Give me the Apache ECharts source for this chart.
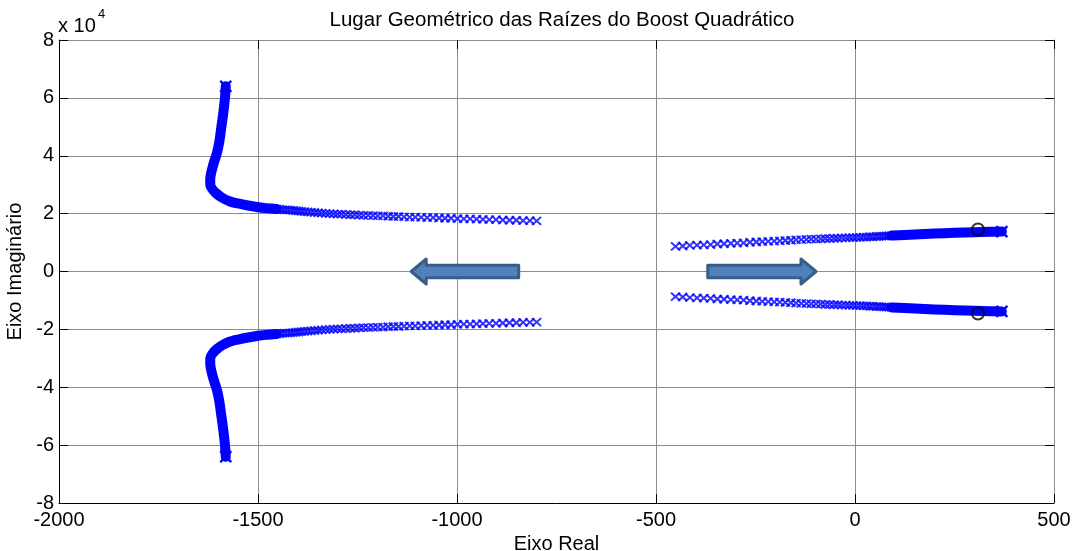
<!DOCTYPE html>
<html>
<head>
<meta charset="utf-8">
<title>Lugar Geométrico das Raízes do Boost Quadrático</title>
<script src="https://cdn.jsdelivr.net/npm/echarts@6.0.0/dist/echarts.min.js"></script>
<style>
  html, body { margin: 0; padding: 0; background: #fff; }
  #chart { width: 1075px; height: 551px; }
</style>
</head>
<body>
<div id="chart"></div>
<script>
// Root locus of the quadratic boost converter.
// Points are [real part, imaginary part / 1e4]; the lower half-plane
// branches are the complex conjugates of the upper ones.

const xTicks = [-2000, -1500, -1000, -500, 0, 500];
const yTicks = [-8, -6, -4, -2, 0, 2, 4, 6, 8];

// Left pole pair, upper branch: individual gain steps (sparse part)
const leftUpperSteps = [
  [-800, 1.75], [-817, 1.76], [-834, 1.76], [-851, 1.77], [-868, 1.77], [-885, 1.78],
  [-902, 1.79], [-919, 1.79], [-935, 1.80], [-951, 1.81], [-967, 1.82], [-983, 1.82],
  [-999, 1.83], [-1015, 1.84], [-1030, 1.84], [-1045, 1.85], [-1060, 1.86], [-1075, 1.86],
  [-1090, 1.87], [-1105, 1.88], [-1119, 1.88], [-1133, 1.89], [-1147, 1.90], [-1160, 1.90],
  [-1173, 1.91], [-1186, 1.92], [-1199, 1.92], [-1211, 1.93], [-1223, 1.94], [-1235, 1.94],
  [-1246, 1.95], [-1257, 1.96], [-1268, 1.96], [-1279, 1.97], [-1290, 1.98], [-1300, 1.98],
  [-1310, 1.99], [-1320, 2.00], [-1330, 2.01], [-1340, 2.02], [-1349, 2.03], [-1358, 2.04],
  [-1367, 2.05], [-1375, 2.06], [-1383, 2.07], [-1391, 2.08], [-1398, 2.09], [-1405, 2.10],
  [-1412, 2.11], [-1419, 2.12], [-1426, 2.13], [-1433, 2.13], [-1440, 2.14], [-1447, 2.15],
  [-1454, 2.16], [-1460, 2.17]
];
// Left pole pair, upper branch: densely packed gain steps (solid band)
const leftUpperBand = [
  [-1454, 2.16], [-1480, 2.19], [-1500, 2.22], [-1525, 2.28],
  [-1550, 2.35], [-1570, 2.42], [-1590, 2.55], [-1605, 2.70], [-1615, 2.85], [-1620, 3.00],
  [-1620, 3.20], [-1616, 3.50], [-1610, 3.80], [-1603, 4.10], [-1597, 4.50], [-1592, 5.00],
  [-1587, 5.50], [-1583, 6.00], [-1581, 6.40]
];

// Right pole pair, upper branch: individual gain steps
const rightUpperSteps = [
  [-451, 0.87], [-433, 0.88], [-415, 0.90], [-397, 0.91], [-380, 0.92], [-363, 0.93],
  [-346, 0.95], [-329, 0.96], [-312, 0.97], [-296, 0.98], [-280, 0.99], [-264, 1.01],
  [-248, 1.02], [-233, 1.03], [-218, 1.04], [-203, 1.05], [-189, 1.06], [-175, 1.07],
  [-161, 1.08], [-148, 1.09], [-135, 1.10], [-122, 1.11], [-110, 1.12], [-98, 1.12],
  [-86, 1.13], [-75, 1.14], [-64, 1.14], [-53, 1.15], [-43, 1.15], [-33, 1.16],
  [-23, 1.16], [-14, 1.17], [-5, 1.17], [4, 1.18], [13, 1.18], [21, 1.19],
  [29, 1.19], [37, 1.20], [45, 1.20], [53, 1.21], [60, 1.21], [67, 1.22],
  [74, 1.22], [80, 1.23], [86, 1.23], [92, 1.24], [98, 1.24]
];
// Right pole pair, upper branch: densely packed gain steps
const rightUpperBand = [
  [92, 1.24], [125, 1.26], [150, 1.28], [200, 1.31], [250, 1.34], [300, 1.36],
  [340, 1.37], [369, 1.38]
];

// Open-loop zeros
const zeros = [[309, 1.45], [309, -1.45]];

// Direction arrows: [tail, tip] in axis units
const arrows = [
  [[-845, 0], [-1115, 0]],
  [[-370, 0], [-98, 0]]
];

const conj = pts => pts.map(p => [p[0], -p[1]]);

const FONT = '"Liberation Sans", Arial, Helvetica, sans-serif';
const FS = 20;
const BLUE = '#0000ff';
const CROSS = 'path://M0,0L10,10M10,0L0,10';

function stepSeries(data) {
  return {
    type: 'scatter', data: data, symbol: CROSS, symbolSize: [9, 8],
    itemStyle: { color: 'rgba(0,0,0,0)', borderColor: BLUE, borderWidth: 2 },
    silent: true, z: 3
  };
}
// Solid band through the dense steps; only its final step keeps a cross
function bandSeries(data) {
  const last = data.length - 1;
  return {
    type: 'line', smooth: 0.25, symbol: 'none', showSymbol: true,
    data: data.map((p, i) => i === last
      ? { value: p, symbol: CROSS, symbolSize: 11 }
      : { value: p }),
    itemStyle: { color: 'rgba(0,0,0,0)', borderColor: BLUE, borderWidth: 2.4 },
    lineStyle: { color: BLUE, width: 10, cap: 'round', join: 'round' },
    silent: true, z: 3, animation: false
  };
}

const chart = echarts.init(document.getElementById('chart'), null, { renderer: 'canvas' });

const gridLine = { show: true, lineStyle: { color: '#8c8c8c', width: 1 } };
const labelStyle = { fontFamily: FONT, fontSize: FS, color: '#000' };
const plain = v => String(v);

chart.setOption({
  animation: false,
  backgroundColor: '#fff',
  title: {
    text: 'Lugar Geométrico das Raízes do Boost Quadrático',
    left: 557, top: 5, textAlign: 'center',
    textStyle: { fontFamily: FONT, fontSize: 20.5, fontWeight: 'normal', color: '#000' }
  },
  grid: { left: 59, right: 21, top: 40, bottom: 48, containLabel: false, outerBoundsMode: 'none' },
  xAxis: [
    {
      type: 'value', min: xTicks[0], max: xTicks[xTicks.length - 1], interval: 500,
      position: 'bottom',
      name: 'Eixo Real', nameLocation: 'middle', nameGap: 26,
      nameTextStyle: labelStyle,
      axisLine: { show: true, onZero: false, lineStyle: { color: '#000', width: 1 } },
      axisTick: { show: true, inside: true, length: 9, lineStyle: { color: '#000' } },
      axisLabel: Object.assign({ margin: 7, formatter: plain }, labelStyle),
      splitLine: gridLine
    },
    {
      type: 'value', min: xTicks[0], max: xTicks[xTicks.length - 1], interval: 500,
      position: 'top',
      axisLine: { show: true, onZero: false, lineStyle: { color: '#8c8c8c', width: 1 } },
      axisTick: { show: true, inside: true, length: 9, lineStyle: { color: '#000' } },
      axisLabel: { show: false },
      splitLine: { show: false }
    }
  ],
  yAxis: [
    {
      type: 'value', min: yTicks[0], max: yTicks[yTicks.length - 1], interval: 2,
      position: 'left',
      name: 'Eixo Imaginário', nameLocation: 'middle', nameGap: 26,
      nameTextStyle: labelStyle,
      axisLine: { show: true, onZero: false, lineStyle: { color: '#000', width: 1 } },
      axisTick: { show: true, inside: true, length: 9, lineStyle: { color: '#000' } },
      axisLabel: Object.assign({ margin: 5, formatter: plain }, labelStyle),
      splitLine: gridLine
    },
    {
      type: 'value', min: yTicks[0], max: yTicks[yTicks.length - 1], interval: 2,
      position: 'right',
      axisLine: { show: true, onZero: false, lineStyle: { color: '#8c8c8c', width: 1 } },
      axisTick: { show: true, inside: true, length: 9, lineStyle: { color: '#000' } },
      axisLabel: { show: false },
      splitLine: { show: false }
    }
  ],
  series: [
    stepSeries(leftUpperSteps),
    bandSeries(leftUpperBand),
    stepSeries(conj(leftUpperSteps)),
    bandSeries(conj(leftUpperBand)),
    stepSeries(rightUpperSteps),
    bandSeries(rightUpperBand),
    stepSeries(conj(rightUpperSteps)),
    bandSeries(conj(rightUpperBand)),
    {
      type: 'scatter', data: zeros, symbol: 'circle', symbolSize: 12,
      itemStyle: { color: 'rgba(0,0,0,0)', borderColor: '#000', borderWidth: 2 },
      silent: true, z: 5
    }
  ]
});

// Block arrows and the axis exponent, placed through the grid's coordinate system
function arrowPoints(tail, tip) {
  const dir = tip[0] >= tail[0] ? 1 : -1;
  const bodyHalf = 6.2, headHalf = 12.5, headLen = 15;
  const y = tail[1];
  const base = tip[0] - dir * headLen;
  return [
    [tail[0], y - bodyHalf], [base, y - bodyHalf], [base, y - headHalf],
    [tip[0], y], [base, y + headHalf], [base, y + bodyHalf], [tail[0], y + bodyHalf]
  ];
}

const graphics = arrows.map(a => {
  const tail = chart.convertToPixel({ gridIndex: 0 }, a[0]);
  const tip = chart.convertToPixel({ gridIndex: 0 }, a[1]);
  return {
    type: 'polygon', z: 10, silent: true,
    shape: { points: arrowPoints(tail, tip) },
    style: { fill: '#4f81bd', stroke: '#385d8a', lineWidth: 3, lineJoin: 'round' }
  };
});

const corner = chart.convertToPixel({ gridIndex: 0 }, [xTicks[0], yTicks[yTicks.length - 1]]);
graphics.push(
  {
    type: 'text', z: 10, silent: true, x: corner[0] - 1, y: corner[1] - 24,
    style: { text: 'x 10', font: FS + 'px ' + FONT, fill: '#000' }
  },
  {
    type: 'text', z: 10, silent: true, x: corner[0] + 39, y: corner[1] - 32,
    style: { text: '4', font: '13px ' + FONT, fill: '#000' }
  }
);

chart.setOption({ graphic: graphics });
</script>
</body>
</html>
